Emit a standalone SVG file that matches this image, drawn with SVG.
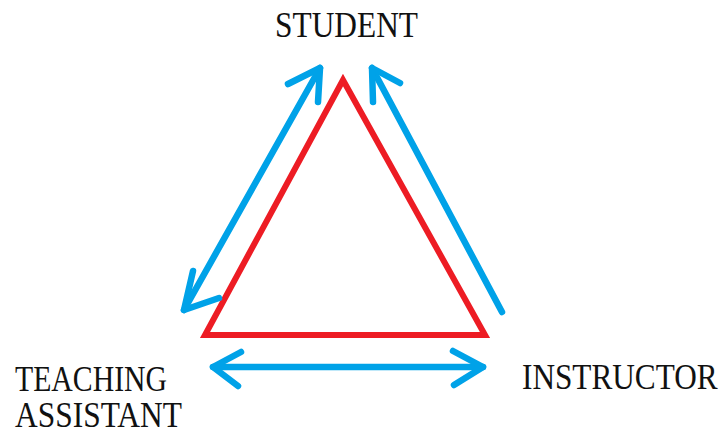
<svg xmlns="http://www.w3.org/2000/svg" width="725" height="437" viewBox="0 0 725 437">
<style>
.lbl{font-family:"Liberation Serif","Times New Roman",serif;font-size:35px;fill:#111;}
.blue{fill:none;stroke:#00A2E8;stroke-width:6.5;stroke-linecap:round;stroke-linejoin:round;}
.red{fill:none;stroke:#ED1C24;stroke-width:6;stroke-linejoin:miter;}
</style>
<rect width="725" height="437" fill="#fff"/>
<g id="triangle">
<polygon class="red" points="343,80 205,335 485,335"/>
</g>
<g id="student"><text class="lbl" x="275" y="37" textLength="143" lengthAdjust="spacingAndGlyphs">STUDENT</text></g>
<g id="teaching-assistant">
<text class="lbl" x="15" y="391" textLength="152" lengthAdjust="spacingAndGlyphs">TEACHING</text>
<text class="lbl" x="15" y="427" textLength="167" lengthAdjust="spacingAndGlyphs">ASSISTANT</text>
</g>
<g id="instructor"><text class="lbl" transform="translate(522,389) scale(0.893,1)" x="0" y="0">INSTRUCTOR</text></g>
<g id="connectors">
<path class="blue" d="M320,68 L184,310"/>
<path class="blue" d="M288,84 L320,68 L318,102"/>
<path class="blue" d="M193,271 L184,310 L219,298"/>
<path class="blue" d="M372,68 L502,312"/>
<path class="blue" d="M400,83 L372,68 L373,102"/>
<path class="blue" d="M213,367 L483,367"/>
<path class="blue" d="M241,352 L213,367 L238,386"/>
<path class="blue" d="M453,351 L483,367 L454,385"/>
</g>
</svg>
